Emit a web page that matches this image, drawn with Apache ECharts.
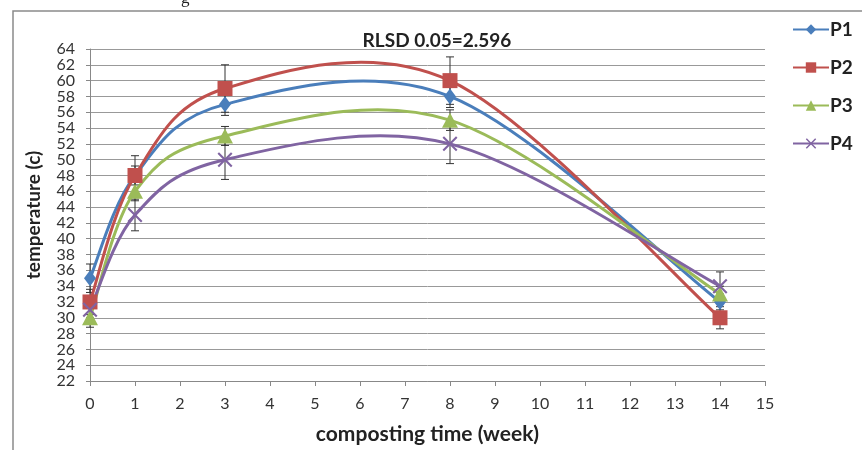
<!DOCTYPE html>
<html>
<head>
<meta charset="utf-8">
<script src="https://cdn.jsdelivr.net/npm/echarts@6/dist/echarts.min.js"></script>
<style>
  html, body { margin: 0; padding: 0; background: #fff; }
  #chart { width: 862px; height: 450px; }
</style>
</head>
<body>
<div id="chart"></div>
<script>
// composting time (week)
var weeks = [0, 1, 3, 8, 14]
// temperature per treatment
var p1 = [35, 48, 57, 58, 32]
var p2 = [32, 48, 59, 60, 30]
var p3 = [30, 46, 53, 55, 33]
var p4 = [31, 43, 50, 52, 34]
// error bar half widths
var errP1 = [1.8, 1.2, 1.4, 1.4, 1.0]
var errP2 = [1.6, 2.5, 3, 3, 1.4]
var errP3 = [1.2, 1.2, 1.2, 1.3, 1.0]
var errP4 = [1.0, 2.0, 2.5, 2.5, 1.8]

var names = ['P1', 'P2', 'P3', 'P4']
var colors = ['#4a7ebb', '#c0504d', '#9bbb59', '#8064a2']
var font = 'Lato, "Open Sans", sans-serif'

var chart = echarts.init(document.getElementById('chart'))

function pairs(vals) {
  return weeks.map(function(w, i) { return [w, vals[i]] })
}

function errData(vals, errs) {
  return weeks.map(function(w, i) { return [w, vals[i] - errs[i], vals[i] + errs[i]] })
}

function errorSeries(vals, errs) {
  return {
    type: 'custom',
    z: 1,
    silent: true,
    data: errData(vals, errs),
    encode: { x: 0, y: [1, 2] },
    renderItem: function(params, api) {
      var lo = api.coord([api.value(0), api.value(1)])
      var hi = api.coord([api.value(0), api.value(2)])
      var w = 4
      var st = { stroke: '#333', lineWidth: 1 }
      return {
        type: 'group',
        children: [
          { type: 'line', shape: { x1: lo[0], y1: lo[1], x2: hi[0], y2: hi[1] }, style: st },
          { type: 'line', shape: { x1: lo[0] - w, y1: lo[1], x2: lo[0] + w, y2: lo[1] }, style: st },
          { type: 'line', shape: { x1: hi[0] - w, y1: hi[1], x2: hi[0] + w, y2: hi[1] }, style: st }
        ]
      }
    }
  }
}

// smoothed curve like the spreadsheet one (catmull-rom segments)
function curveSeries(vals, color) {
  return {
    type: 'custom',
    z: 2,
    silent: true,
    data: pairs(vals),
    encode: { x: 0, y: 1 },
    renderItem: function(params, api) {
      var i = params.dataIndex
      var n = weeks.length
      if (i >= n - 1) return null
      var pt = function(k) {
        k = Math.max(0, Math.min(n - 1, k))
        return api.coord([weeks[k], vals[k]])
      }
      var a = pt(i - 1), b = pt(i), c = pt(i + 1), d = pt(i + 2)
      var c1 = [b[0] + (c[0] - a[0]) / 6, b[1] + (c[1] - a[1]) / 6]
      var c2 = [c[0] - (d[0] - b[0]) / 6, c[1] - (d[1] - b[1]) / 6]
      return {
        type: 'bezierCurve',
        shape: { x1: b[0], y1: b[1], cpx1: c1[0], cpy1: c1[1], cpx2: c2[0], cpy2: c2[1], x2: c[0], y2: c[1] },
        style: { stroke: color, lineWidth: 3, fill: 'none' }
      }
    }
  }
}

var xMark = 'path://M0,1 L1,0 L5,4 L9,0 L10,1 L6,5 L10,9 L9,10 L5,6 L1,10 L0,9 L4,5 Z'

function markerSeries(name, vals, color, symbol, size) {
  return {
    name: name,
    type: 'line',
    z: 3,
    data: pairs(vals),
    symbol: symbol,
    symbolSize: size,
    lineStyle: { color: color, width: 3, opacity: 0 },
    itemStyle: { color: color },
    emphasis: { disabled: true }
  }
}

var option = {
  animation: false,
  textStyle: { fontFamily: font },
  grid: { left: 90, right: 97, top: 49, bottom: 66 },
  graphic: [
    {
      type: 'rect',
      shape: { x: 13, y: 11, width: 900, height: 500 },
      style: { fill: 'none', stroke: '#8a8a8a', lineWidth: 1.5 },
      silent: true
    },
    {
      type: 'text',
      x: 437,
      y: 31,
      style: { text: 'RLSD 0.05=2.596', font: 'bold 19px ' + font, fill: '#222', align: 'center' }
    },
    {
      type: 'text',
      x: 181,
      y: -10,
      style: { text: 'g', font: '17px "Liberation Serif", serif', fill: '#222' }
    }
  ],
  legend: {
    data: names,
    orient: 'vertical',
    left: 792,
    top: 20,
    padding: 0,
    itemWidth: 36,
    itemHeight: 13,
    itemGap: 19,
    lineStyle: { opacity: 1 },
    textStyle: { fontFamily: font, fontWeight: 'bold', fontSize: 19, color: '#222', padding: [0, 0, 0, -4] }
  },
  xAxis: {
    type: 'value',
    min: 0,
    max: 15,
    interval: 1,
    name: 'composting time (week)',
    nameLocation: 'middle',
    nameGap: 43,
    nameTextStyle: { fontFamily: font, fontWeight: 'bold', fontSize: 21, color: '#222' },
    axisLine: { lineStyle: { color: '#888' } },
    axisTick: { length: 5, lineStyle: { color: '#888' } },
    axisLabel: { margin: 15, fontSize: 16, color: '#333', fontFamily: font },
    splitLine: { show: false }
  },
  yAxis: {
    type: 'value',
    min: 22,
    max: 64,
    interval: 2,
    name: 'temperature (c)',
    nameLocation: 'middle',
    nameGap: 47,
    nameTextStyle: { fontFamily: font, fontWeight: 'bold', fontSize: 19, color: '#222' },
    axisLine: { show: true, lineStyle: { color: '#888' } },
    axisTick: { show: true, length: 4, lineStyle: { color: '#888' } },
    axisLabel: { margin: 15, fontSize: 16, color: '#333', fontFamily: font },
    splitLine: { lineStyle: { color: '#999', width: 1 } }
  },
  series: [
    errorSeries(p1, errP1),
    errorSeries(p2, errP2),
    errorSeries(p3, errP3),
    errorSeries(p4, errP4),
    curveSeries(p1, colors[0]),
    curveSeries(p2, colors[1]),
    curveSeries(p3, colors[2]),
    curveSeries(p4, colors[3]),
    markerSeries('P1', p1, colors[0], 'diamond', [12, 16]),
    markerSeries('P2', p2, colors[1], 'rect', 15),
    markerSeries('P3', p3, colors[2], 'triangle', [16, 15]),
    markerSeries('P4', p4, colors[3], xMark, 15)
  ]
}

chart.setOption(option)
</script>
</body>
</html>
